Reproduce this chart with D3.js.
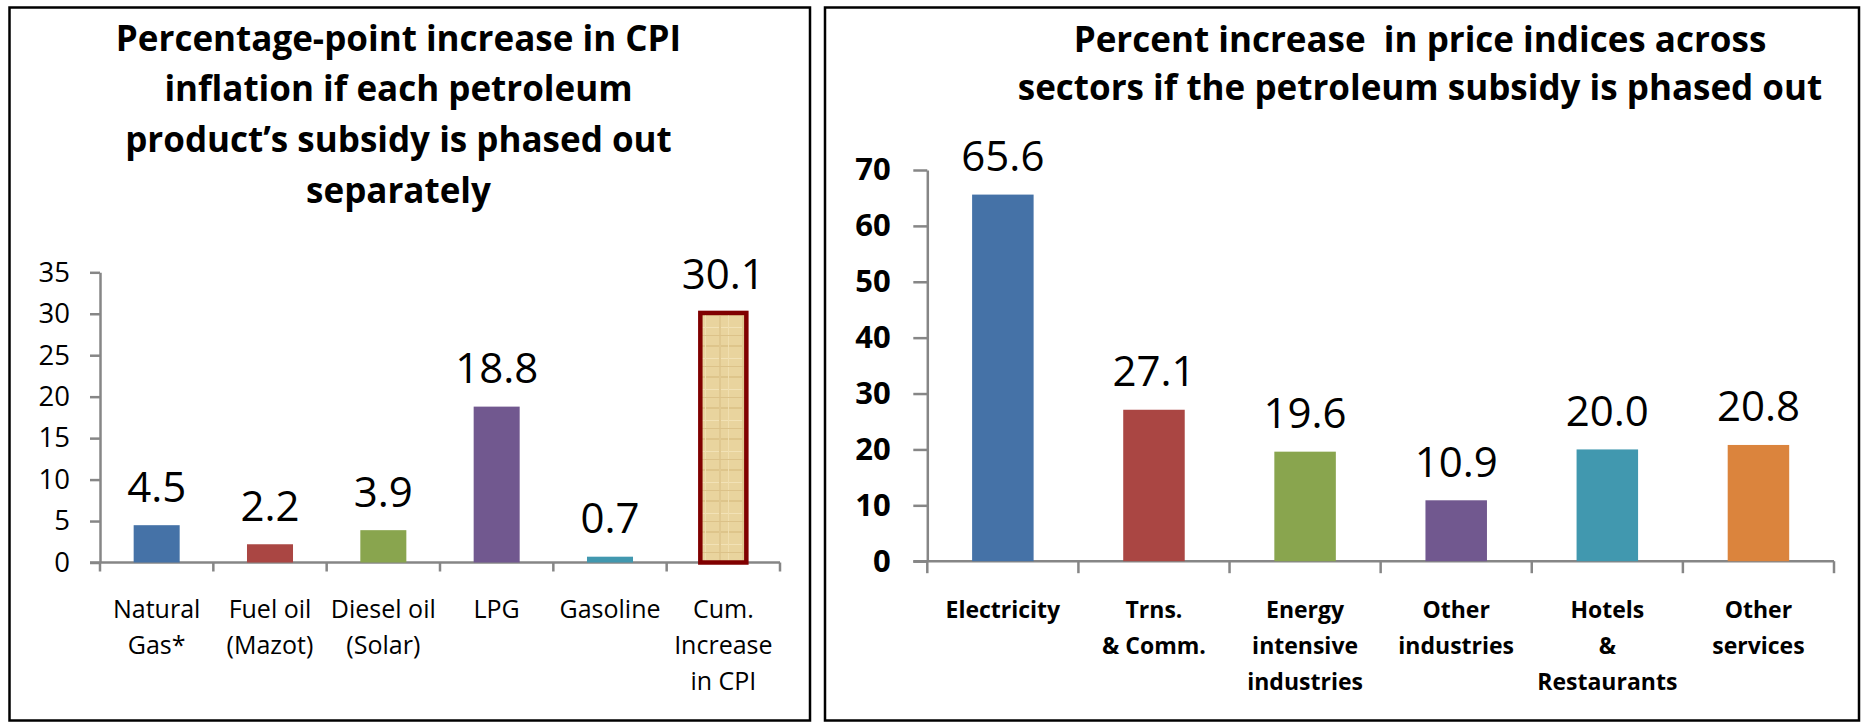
<!DOCTYPE html>
<html>
<head>
<meta charset="utf-8">
<script src="https://cdn.jsdelivr.net/npm/d3@7"></script>
<style>
  html, body { margin: 0; padding: 0; background: #fff; }
  svg { display: block; }
  text { font-family: "Open Sans", "Lato", sans-serif; white-space: pre; }
</style>
</head>
<body>
<svg id="chart" width="1864" height="723"></svg>
<script>
// ---------------- data ----------------
const leftTitle = ["Percentage-point increase in CPI", "inflation if each petroleum", "product\u2019s subsidy is phased out", "separately"];
const leftCategories = [["Natural", "Gas*"], ["Fuel oil", "(Mazot)"], ["Diesel oil", "(Solar)"], ["LPG"], ["Gasoline"], ["Cum.", "Increase", "in CPI"]];
const leftValues = [4.5, 2.2, 3.9, 18.8, 0.7, 30.1];
const leftTicks = [0, 5, 10, 15, 20, 25, 30, 35];

const rightTitle = ["Percent increase  in price indices across", "sectors if the petroleum subsidy is phased out"];
const rightCategories = [["Electricity"], ["Trns.", "& Comm."], ["Energy", "intensive", "industries"], ["Other", "industries"], ["Hotels", "&", "Restaurants"], ["Other", "services"]];
const rightValues = [65.6, 27.1, 19.6, 10.9, 20.0, 20.8];
const rightTicks = [0, 10, 20, 30, 40, 50, 60, 70];

const barColors = ["#4572A7", "#AA4643", "#89A54E", "#71588F", "#4198AF", "#DB843D"];

// ---------------- drawing ----------------
const svg = d3.select("#chart");
const defs = svg.append("defs");

// papyrus-like texture for the cumulative bar
const pat = defs.append("pattern").attr("id", "papyrus")
  .attr("patternUnits", "userSpaceOnUse").attr("width", 23).attr("height", 31);
pat.append("rect").attr("width", 23).attr("height", 31).attr("fill", "#E9D49E");
pat.append("rect").attr("x", 0).attr("y", 4).attr("width", 23).attr("height", 2).attr("fill", "#DEC58B");
pat.append("rect").attr("x", 0).attr("y", 17).attr("width", 23).attr("height", 1).attr("fill", "#F2E2B6");
pat.append("rect").attr("x", 6).attr("y", 0).attr("width", 2).attr("height", 31).attr("fill", "#E0C890");
pat.append("rect").attr("x", 15).attr("y", 0).attr("width", 1).attr("height", 31).attr("fill", "#F0DEAF");
pat.append("rect").attr("x", 0).attr("y", 25).attr("width", 23).attr("height", 1).attr("fill", "#DCC289");

// panel borders
svg.append("rect").attr("x", 9.5).attr("y", 7.5).attr("width", 800.5).attr("height", 713)
  .attr("fill", "none").attr("stroke", "#000").attr("stroke-width", 2.5);
svg.append("rect").attr("x", 825).attr("y", 7.5).attr("width", 1034).attr("height", 713)
  .attr("fill", "none").attr("stroke", "#000").attr("stroke-width", 2.5);

function drawChart(cfg) {
  const g = svg.append("g");
  const x = d3.scaleBand().domain(d3.range(cfg.values.length))
    .range(cfg.xRange).paddingInner(cfg.pad).paddingOuter(cfg.pad / 2);
  const y = d3.scaleLinear().domain([0, d3.max(cfg.ticks)]).range(cfg.yRange);
  const step = x.step();
  const x0 = cfg.xRange[0];

  // title
  g.append("text").attr("text-anchor", "middle")
    .attr("font-weight", 700).attr("font-size", cfg.titleSize).attr("fill", "#000")
    .selectAll("tspan").data(cfg.title).join("tspan")
    .attr("x", cfg.titleX).attr("y", (d, i) => cfg.titleY + i * cfg.titleLH).text(d => d);

  // y axis
  const yAxis = d3.axisLeft(y).tickValues(cfg.ticks).tickSize(cfg.ytick).tickSizeOuter(0)
    .tickPadding(cfg.yPad).tickFormat(d3.format("d"));
  const ya = g.append("g").attr("transform", `translate(${x0},0)`).call(yAxis);
  ya.select(".domain").attr("stroke", "#868686").attr("stroke-width", 2.5);
  ya.selectAll(".tick line").attr("stroke", "#868686").attr("stroke-width", 2.5);
  ya.selectAll(".tick text").attr("font-family", "'Open Sans', sans-serif")
    .attr("font-size", cfg.yFont).attr("font-weight", cfg.yWeight).attr("fill", "#000");

  // x axis line + ticks between categories
  g.append("line").attr("x1", x0 - cfg.ytick).attr("x2", cfg.xRange[1])
    .attr("y1", y(0)).attr("y2", y(0)).attr("stroke", "#868686").attr("stroke-width", 2.5);
  g.selectAll(".xtick").data(d3.range(cfg.values.length + 1)).join("line")
    .attr("x1", i => x0 + i * step).attr("x2", i => x0 + i * step)
    .attr("y1", y(0)).attr("y2", y(0) + cfg.xtick)
    .attr("stroke", "#868686").attr("stroke-width", 2.5);

  // bars
  g.selectAll(".bar").data(cfg.values).join("rect")
    .attr("x", (d, i) => x(i)).attr("width", x.bandwidth())
    .attr("y", d => y(d)).attr("height", d => y(0) - y(d))
    .attr("fill", (d, i) => (cfg.special && i === cfg.values.length - 1) ? "url(#papyrus)" : barColors[i])
    .attr("stroke", (d, i) => (cfg.special && i === cfg.values.length - 1) ? "#800000" : "none")
    .attr("stroke-width", (d, i) => (cfg.special && i === cfg.values.length - 1) ? 4.5 : 0);

  // value labels
  g.selectAll(".lbl").data(cfg.values).join("text")
    .attr("x", (d, i) => x(i) + x.bandwidth() / 2).attr("y", d => y(d) - cfg.lblGap)
    .attr("text-anchor", "middle").attr("font-size", cfg.lblFont).attr("font-weight", cfg.lblWeight)
    .attr("fill", "#000").text(d => d.toFixed(1));

  // category labels
  const cl = g.selectAll(".cat").data(cfg.cats).join("text")
    .attr("text-anchor", "middle").attr("font-size", cfg.catFont).attr("font-weight", cfg.catWeight)
    .attr("fill", "#000");
  cl.selectAll("tspan").data((d, i) => d.map(s => ({ s, i }))).join("tspan")
    .attr("x", d => x(d.i) + x.bandwidth() / 2)
    .attr("y", (d, j) => cfg.catY + j * cfg.catLH).text(d => d.s);
}

drawChart({
  title: leftTitle, titleX: 398.5, titleY: 50.5, titleLH: 50.7, titleSize: 35,
  values: leftValues, cats: leftCategories, ticks: leftTicks,
  xRange: [100, 780], yRange: [562.5, 272.3], pad: 0.594,
  ytick: 10, yPad: 20, yFont: 27.5, yWeight: 400, xtick: 9,
  lblGap: 23.5, lblFont: 42, lblWeight: 400,
  catFont: 25, catWeight: 400, catY: 618.3, catLH: 35.6,
  special: true
});

drawChart({
  title: rightTitle, titleX: 1420, titleY: 52, titleLH: 48.3, titleSize: 35,
  values: rightValues, cats: rightCategories, ticks: rightTicks,
  xRange: [927.3, 1834], yRange: [561.2, 170], pad: 0.593,
  ytick: 14, yPad: 22.6, yFont: 31, yWeight: 700, xtick: 12,
  lblGap: 23.5, lblFont: 42, lblWeight: 400,
  catFont: 23, catWeight: 700, catY: 618.3, catLH: 36,
  special: false
});
</script>
</body>
</html>
